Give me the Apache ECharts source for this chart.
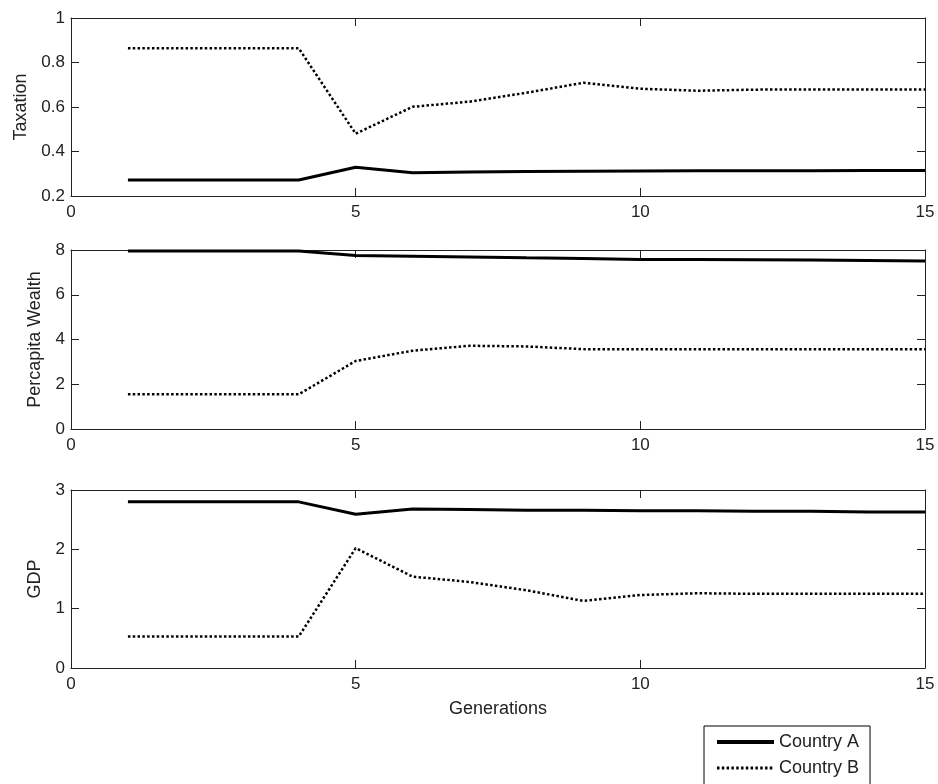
<!DOCTYPE html>
<html>
<head>
<meta charset="utf-8">
<script src="https://cdn.jsdelivr.net/npm/echarts@6/dist/echarts.min.js"></script>
<style>
  html, body { margin: 0; padding: 0; background: #fff; }
  #chart { width: 938px; height: 784px; }
</style>
</head>
<body>
<div id="chart"></div>
<script>
// generations on the x axis
const generations = [1, 2, 3, 4, 5, 6, 7, 8, 9, 10, 11, 12, 13, 14, 15];

// Taxation
const taxA = [0.272, 0.272, 0.272, 0.272, 0.329, 0.305, 0.308, 0.31, 0.311, 0.312, 0.313, 0.313, 0.314, 0.315, 0.315];
const taxB = [0.864, 0.864, 0.864, 0.864, 0.48, 0.601, 0.624, 0.664, 0.709, 0.682, 0.673, 0.678, 0.679, 0.679, 0.679];

// Percapita Wealth
const wealthA = [7.95, 7.95, 7.95, 7.95, 7.75, 7.72, 7.69, 7.65, 7.62, 7.58, 7.57, 7.56, 7.55, 7.53, 7.51];
const wealthB = [1.55, 1.55, 1.55, 1.55, 3.04, 3.5, 3.72, 3.69, 3.57, 3.56, 3.56, 3.56, 3.56, 3.56, 3.56];

// GDP
const gdpA = [2.8, 2.8, 2.8, 2.8, 2.59, 2.68, 2.67, 2.66, 2.66, 2.65, 2.65, 2.64, 2.64, 2.63, 2.63];
const gdpB = [0.53, 0.53, 0.53, 0.53, 2.02, 1.54, 1.45, 1.31, 1.13, 1.23, 1.26, 1.25, 1.25, 1.25, 1.25];

const xTicks = { min: 0, max: 15, interval: 5 };
const panels = [
  { name: 'Taxation', min: 0.2, max: 1, interval: 0.2, gap: 41, a: taxA, b: taxB },
  { name: 'Percapita Wealth', min: 0, max: 8, interval: 2, gap: 27, a: wealthA, b: wealthB },
  { name: 'GDP', min: 0, max: 3, interval: 1, gap: 27, a: gdpA, b: gdpB }
];

const font = 'Liberation Sans, Arial, sans-serif';
const ink = '#222';
const gridTops = [18, 250, 490];
const gridHeights = [178, 179, 178];

function pairs(vals) {
  return generations.map((g, i) => [g, vals[i]]);
}

let grid = [], xAxis = [], yAxis = [], series = [];
panels.forEach(function (p, i) {
  grid.push({ left: 71, right: 13, top: gridTops[i], height: gridHeights[i] });
  let lineOpt = { show: true, onZero: false, lineStyle: { color: ink, width: 1 } };
  let tickOpt = { show: true, inside: true, length: 8, lineStyle: { color: ink, width: 1 } };
  // bottom x axis
  xAxis.push({
    gridIndex: i, type: 'value', position: 'bottom',
    min: xTicks.min, max: xTicks.max, interval: xTicks.interval,
    axisLine: lineOpt, axisTick: tickOpt, splitLine: { show: false },
    axisLabel: { color: ink, fontSize: 17, fontFamily: font, margin: 8 },
    name: i === 2 ? 'Generations' : '', nameLocation: 'middle', nameGap: 32,
    nameTextStyle: { color: ink, fontSize: 18, fontFamily: font }
  });
  // top mirror
  xAxis.push({
    gridIndex: i, type: 'value', position: 'top',
    min: xTicks.min, max: xTicks.max, interval: xTicks.interval,
    axisLine: lineOpt, axisTick: tickOpt, splitLine: { show: false },
    axisLabel: { show: false }
  });
  // left y axis
  yAxis.push({
    gridIndex: i, type: 'value', position: 'left',
    min: p.min, max: p.max, interval: p.interval,
    axisLine: lineOpt, axisTick: tickOpt, splitLine: { show: false },
    axisLabel: { color: ink, fontSize: 17, fontFamily: font, margin: 6 },
    name: p.name, nameLocation: 'middle', nameGap: p.gap,
    nameTextStyle: { color: ink, fontSize: 18, fontFamily: font }
  });
  // right mirror
  yAxis.push({
    gridIndex: i, type: 'value', position: 'right',
    min: p.min, max: p.max, interval: p.interval,
    axisLine: lineOpt, axisTick: tickOpt, splitLine: { show: false },
    axisLabel: { show: false }
  });
  series.push({
    name: 'Country A', type: 'line', xAxisIndex: i * 2, yAxisIndex: i * 2,
    data: pairs(p.a), symbol: 'none', silent: true,
    lineStyle: { color: '#000', width: 3 }, itemStyle: { color: '#000' }
  });
  series.push({
    name: 'Country B', type: 'line', xAxisIndex: i * 2, yAxisIndex: i * 2,
    data: pairs(p.b), symbol: 'none', silent: true,
    lineStyle: { color: '#000', width: 2.5, type: [2.5, 2.3] }, itemStyle: { color: '#000' }
  });
});

let myChart = echarts.init(document.getElementById('chart'));
myChart.setOption({
  animation: false,
  backgroundColor: '#fff',
  grid: grid,
  xAxis: xAxis,
  yAxis: yAxis,
  legend: {
    data: [
      { name: 'Country A', lineStyle: { width: 4 } },
      { name: 'Country B', lineStyle: { width: 3 } }
    ],
    orient: 'vertical',
    left: 704, top: 726, height: 120,
    padding: [7, 11, 10, 11],
    itemWidth: 57, itemHeight: 18, itemGap: 8,
    itemStyle: { color: 'rgba(0,0,0,0)', borderWidth: 0, opacity: 0 },
    borderColor: '#000', borderWidth: 1,
    backgroundColor: '#fff',
    selectedMode: false,
    textStyle: { color: ink, fontSize: 18, fontFamily: font }
  },
  series: series
});
</script>
</body>
</html>
